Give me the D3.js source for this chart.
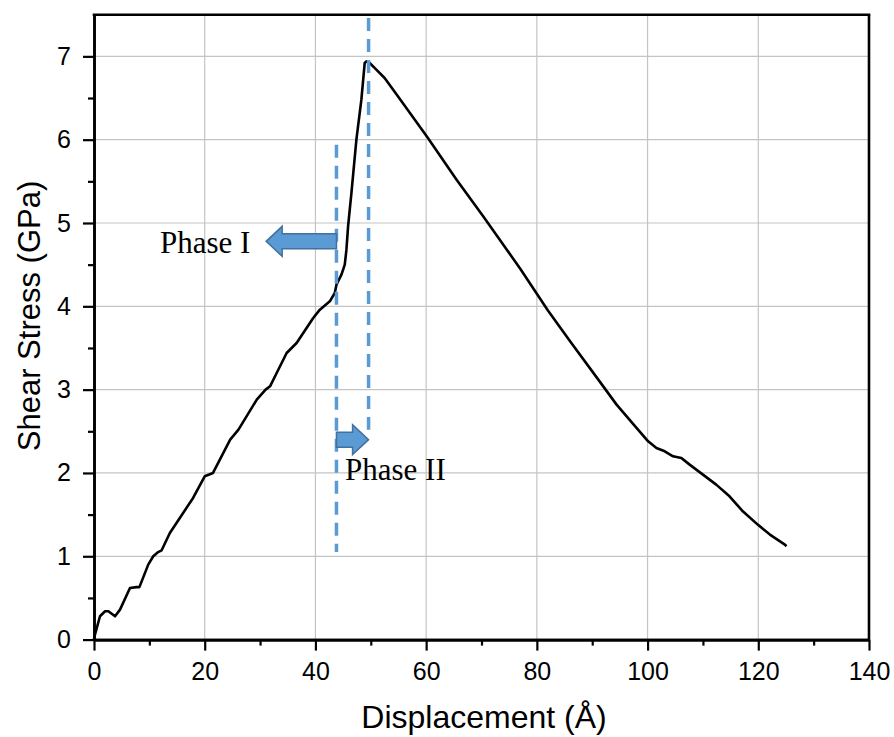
<!DOCTYPE html>
<html><head><meta charset="utf-8">
<script src="https://cdn.jsdelivr.net/npm/d3@7"></script>
<style>body{margin:0;background:#fff}</style>
</head><body>
<svg id="c" width="894" height="737"></svg>
<script>
const dispX = [0,0.05,1.08,2.0,2.6,3.8,4.7,6.5,7.7,8.2,9.8,10.7,11.6,12.2,13.7,15.5,17.9,20.0,21.5,24.6,26.1,29.4,31.0,31.8,33.0,34.8,36.6,39.6,40.8,42.6,43.5,43.8,44.7,45.3,45.6,45.9,46.2,46.5,47.4,48.3,48.9,49.2,49.8,51.0,52.5,54.7,60.1,65.5,70.3,73.3,77.0,82.0,86.0,91.1,94.4,98.0,100.1,101.6,103.1,104.6,106.1,107.6,110.0,112.4,114.8,117.2,119.9,122.1,124.8,125.1];
const stressY = [0,0.03,0.28,0.34,0.34,0.28,0.36,0.62,0.63,0.63,0.9,1.0,1.05,1.07,1.28,1.46,1.70,1.96,2.0,2.40,2.52,2.88,3.0,3.04,3.2,3.44,3.56,3.86,3.96,4.06,4.16,4.26,4.38,4.5,4.68,4.96,5.16,5.36,6.0,6.48,6.92,6.94,6.92,6.84,6.74,6.54,6.04,5.52,5.08,4.80,4.45,3.95,3.58,3.12,2.82,2.54,2.38,2.30,2.26,2.20,2.18,2.10,1.98,1.86,1.72,1.54,1.38,1.26,1.14,1.12];
const xTicks = [0,20,40,60,80,100,120,140];
const yTicks = [0,1,2,3,4,5,6,7];
const xMinor = [10,30,50,70,90,110,130];
const yMinor = [0.5,1.5,2.5,3.5,4.5,5.5,6.5];
// dashed phase boundaries: [x, yFrom, yTo]
const phaseLines = [[43.8,1.05,5.94],[49.6,2.52,7.46]];
// arrows: [tailX, tipX, y]
const arrows = [[43.8,31.1,4.78],[43.8,49.6,2.4]];
const labels = [{t:"Phase I",x:11.92,y:4.64},{t:"Phase II",x:45.34,y:1.92}];

const svg = d3.select("#c");
const m = {l:94,r:869,t:14.7,b:639.6};
const x = d3.scaleLinear().domain([0,140]).range([m.l,m.r]);
const y = d3.scaleLinear().domain([0,7.5]).range([m.b,m.t]);

// grid
const g = svg.append("g");
g.selectAll(".gx").data(xTicks.slice(1,-1)).enter().append("line")
 .attr("x1",d=>x(d)).attr("x2",d=>x(d)).attr("y1",m.t).attr("y2",m.b)
 .attr("stroke","#c4c4c4").attr("stroke-width",1.2);
g.selectAll(".gy").data(yTicks.slice(1)).enter().append("line")
 .attr("y1",d=>y(d)).attr("y2",d=>y(d)).attr("x1",m.l).attr("x2",m.r)
 .attr("stroke","#c4c4c4").attr("stroke-width",1.2);

// axes
const font = "'Liberation Sans', Arial, sans-serif";
svg.append("g").attr("transform",`translate(0,${m.b})`)
 .call(d3.axisBottom(x).tickValues(xTicks).tickSize(11).tickSizeOuter(0).tickPadding(12));
svg.append("g").attr("transform",`translate(0,${m.b})`)
 .call(d3.axisBottom(x).tickValues(xMinor).tickSize(6).tickSizeOuter(0).tickFormat(""));
svg.append("g").attr("transform",`translate(${m.l},0)`)
 .call(d3.axisLeft(y).tickValues(yTicks).tickSize(11).tickSizeOuter(0).tickPadding(12));
svg.append("g").attr("transform",`translate(${m.l},0)`)
 .call(d3.axisLeft(y).tickValues(yMinor).tickSize(6).tickSizeOuter(0).tickFormat(""));
svg.selectAll(".domain").attr("stroke","#000").attr("stroke-width",2.6);
svg.selectAll(".tick line").attr("stroke","#000").attr("stroke-width",2.2);
svg.selectAll(".tick text").attr("font-family",font).attr("font-size",25).attr("fill","#000");
// top and right border
svg.append("line").attr("x1",m.l-1.3).attr("x2",m.r+1.3).attr("y1",m.t).attr("y2",m.t).attr("stroke","#000").attr("stroke-width",2.6);
svg.append("line").attr("x1",m.r).attr("x2",m.r).attr("y1",m.t).attr("y2",m.b).attr("stroke","#000").attr("stroke-width",2.6);

// curve
const pts = dispX.map((d,i)=>[d,stressY[i]]);
svg.append("path").datum(pts)
 .attr("d",d3.line().x(d=>x(d[0])).y(d=>y(d[1])))
 .attr("fill","none").attr("stroke","#000").attr("stroke-width",2.6).attr("stroke-linejoin","round");

// phase lines
svg.selectAll(".pl").data(phaseLines).enter().append("line")
 .attr("x1",d=>x(d[0])).attr("x2",d=>x(d[0])).attr("y1",d=>y(d[2])).attr("y2",d=>y(d[1]))
 .attr("stroke","#5b9bd5").attr("stroke-width",3.5).attr("stroke-dasharray","13,8");

// arrows
arrows.forEach(a=>{
  const x0=x(a[0]), x1=x(a[1]), yc=y(a[2]);
  const dir = Math.sign(x1-x0);
  const headLen = Math.min(16, Math.abs(x1-x0)*0.5);
  const bh=7.5, hh=15;
  const xb = x1 - dir*headLen;
  const p = [[x0,yc-bh],[xb,yc-bh],[xb,yc-hh],[x1,yc],[xb,yc+hh],[xb,yc+bh],[x0,yc+bh]];
  svg.append("path").attr("d","M"+p.map(q=>q.join(",")).join("L")+"Z")
   .attr("fill","#5b9bd5").attr("stroke","#41719c").attr("stroke-width",1.5);
});
svg.selectAll(".lab").data(labels).enter().append("text")
 .attr("x",d=>x(d.x)).attr("y",d=>y(d.y)).text(d=>d.t)
 .attr("font-family","'Liberation Serif','Times New Roman',serif").attr("font-size",31).attr("fill","#000");

// titles
svg.append("text").attr("x",484).attr("y",728).attr("text-anchor","middle")
 .attr("font-family",font).attr("font-size",32).text("Displacement (Å)");
svg.append("text").attr("transform",`translate(40,316) rotate(-90)`).attr("text-anchor","middle")
 .attr("font-family",font).attr("font-size",31).text("Shear Stress (GPa)");
</script>
</body></html>
